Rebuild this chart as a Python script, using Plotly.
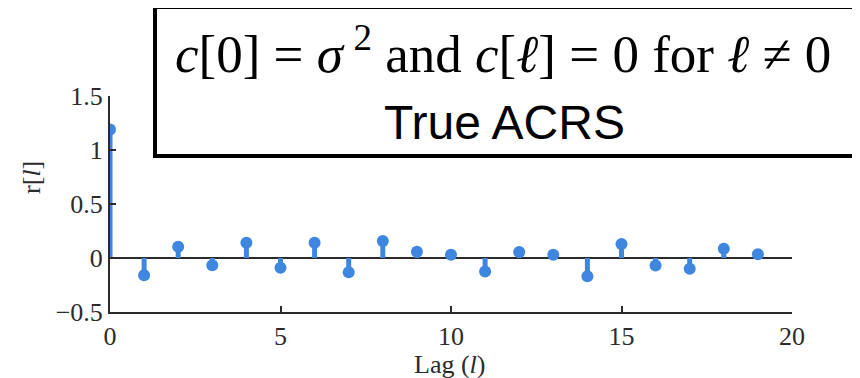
import plotly.graph_objects as go

lags = list(range(20))
values = [1.19, -0.16, 0.105, -0.068, 0.142, -0.09, 0.142, -0.133, 0.157, 0.058,
          0.03, -0.125, 0.055, 0.03, -0.17, 0.13, -0.07, -0.10, 0.085, 0.035]
ytick_vals = [-0.5, 0, 0.5, 1, 1.5]
ytick_text = ["\u22120.5", "0", "0.5", "1", "1.5"]
xtick_vals = [0, 5, 10, 15, 20]

blue = "#3f86e0"
axis_col = "#2b2b2b"
serif = "Liberation Serif, Times New Roman, serif"

# page offset (body margin) compensation
OX, OY = 8, 8
PL, PT, PW, PH = 110 - OX, 96 - OY, 682, 216
W, H = 860 - OX, 378 - OY


def px(x):
    return (x - OX - PL) / PW


def py(y):
    return (PT + PH - (y - OY)) / PH


stem_x, stem_y = [], []
for lx, v in zip(lags, values):
    stem_x += [lx, lx, None]
    stem_y += [0, v, None]

fig = go.Figure()
fig.add_trace(go.Scatter(x=stem_x, y=stem_y, mode="lines",
                         line=dict(color=blue, width=5), hoverinfo="skip",
                         showlegend=False))
fig.add_trace(go.Scatter(x=lags, y=values, mode="markers",
                         marker=dict(color=blue, size=12), showlegend=False))

fig.update_layout(
    width=W, height=H,
    margin=dict(l=PL, r=W - PL - PW, t=PT, b=H - PT - PH),
    paper_bgcolor="white", plot_bgcolor="white",
    font=dict(family=serif, size=26, color=axis_col),
    xaxis=dict(range=[0, 20], tickvals=xtick_vals, ticks="inside", ticklen=6,
               tickwidth=2, tickcolor=axis_col, showline=True, linecolor=axis_col,
               linewidth=2, showgrid=False, zeroline=False,
               tickfont=dict(family=serif, size=26, color=axis_col)),
    yaxis=dict(range=[-0.5, 1.5], tickvals=ytick_vals, ticktext=ytick_text,
               ticks="inside", ticklen=6, tickwidth=2, tickcolor=axis_col,
               showline=True, linecolor=axis_col, linewidth=2, showgrid=False,
               zeroline=True, zerolinecolor=axis_col, zerolinewidth=2,
               tickfont=dict(family=serif, size=26, color=axis_col)),
)

# Axis titles
fig.add_annotation(text="r[<i>l</i>]", xref="paper", yref="paper",
                   x=px(31), y=py(178), textangle=-90,
                   xanchor="center", yanchor="middle",
                   showarrow=False, font=dict(family=serif, size=26, color=axis_col))
fig.add_annotation(text="Lag (<i>l</i>)", xref="paper", yref="paper",
                   x=px(450), y=py(364), xanchor="center", yanchor="middle",
                   showarrow=False, font=dict(family=serif, size=26, color=axis_col))

# Boxed caption
fig.add_shape(type="rect", xref="paper", yref="paper",
              x0=px(155), x1=px(855), y0=py(156), y1=py(7),
              line=dict(color="black", width=4), fillcolor="white", layer="above")
fig.add_annotation(text="<i>c</i>[0] = <i>σ</i>\u2009<sup>2</sup> and <i>c</i>[<i>ℓ</i>] = 0 for <i>ℓ</i> ≠ 0",
                   xref="paper", yref="paper", x=px(503), y=py(50),
                   showarrow=False, xanchor="center", yanchor="middle",
                   font=dict(family=serif, size=53, color="black"))
fig.add_annotation(text="True ACRS", xref="paper", yref="paper",
                   x=px(504), y=py(122), showarrow=False,
                   xanchor="center", yanchor="middle",
                   font=dict(family="Liberation Sans, Arial, sans-serif", size=48, color="black"))

fig.write_html("out.html")
